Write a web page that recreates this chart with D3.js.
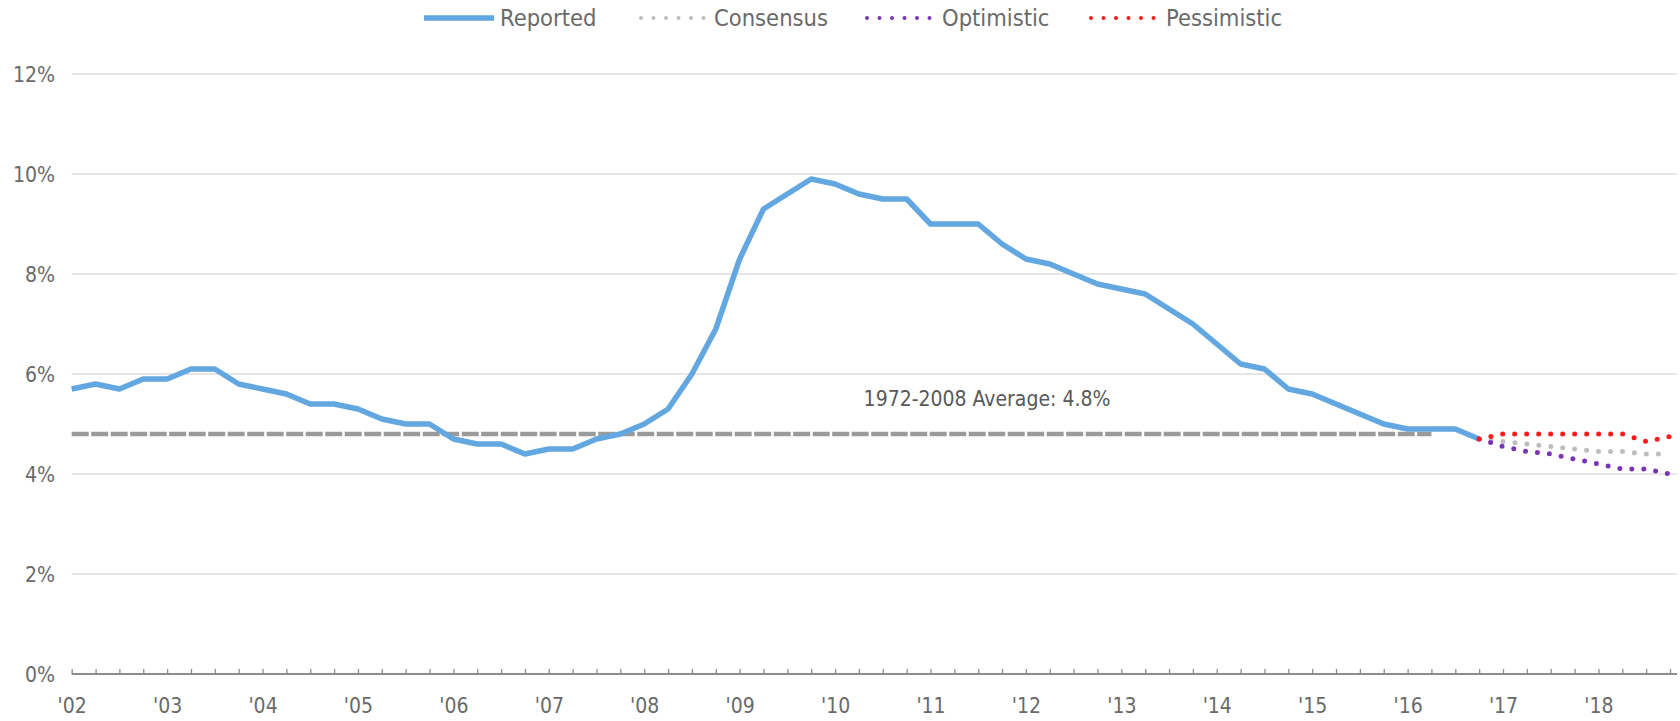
<!DOCTYPE html>
<html><head><meta charset="utf-8">
<script src="https://cdn.jsdelivr.net/npm/d3@7"></script>
<style>
body{margin:0;background:#fff;}
svg text{font-family:"Liberation Sans Narrow","DejaVu Sans Condensed",sans-serif;}
</style>
</head><body>
<svg id="chart" width="1680" height="721"></svg>
<script>
// ---- data ----
const yearLabels = ["'02","'03","'04","'05","'06","'07","'08","'09","'10","'11","'12","'13","'14","'15","'16","'17","'18"];
const quartersPerYear = 4;
const reported = [
  5.7,5.8,5.7,5.9,
  5.9,6.1,6.1,5.8,
  5.7,5.6,5.4,5.4,
  5.3,5.1,5.0,5.0,
  4.7,4.6,4.6,4.4,
  4.5,4.5,4.7,4.8,
  5.0,5.3,6.0,6.9,
  8.3,9.3,9.6,9.9,
  9.8,9.6,9.5,9.5,
  9.0,9.0,9.0,8.6,
  8.3,8.2,8.0,7.8,
  7.7,7.6,7.3,7.0,
  6.6,6.2,6.1,5.7,
  5.6,5.4,5.2,5.0,
  4.9,4.9,4.9,4.7
];
const forecastStartIndex = 59; // 2016 Q4
const consensus   = [4.7,4.65,4.6,4.55,4.5,4.45,4.45,4.4,4.4];
const optimistic  = [4.7,4.55,4.45,4.4,4.3,4.2,4.1,4.1,4.0];
const pessimistic = [4.7,4.8,4.8,4.8,4.8,4.8,4.8,4.65,4.75];
const averageValue = 4.8;
const averageEndIndex = 57; // 2016 Q2
const averageLabel = "1972-2008 Average: 4.8%";
const yTicks = [0,2,4,6,8,10,12];
const legendItems = [
  {name:"Reported", key:"reported"},
  {name:"Consensus", key:"consensus"},
  {name:"Optimistic", key:"optimistic"},
  {name:"Pessimistic", key:"pessimistic"}
];

// ---- styles ----
const colors = {reported:"#62a7e0", consensus:"#bdbdbd", optimistic:"#7a35b5", pessimistic:"#ff1a1a", avg:"#9b9b9b", grid:"#dedede", text:"#6a6a6a", axis:"#8c8c8c"};
const FONT = '"Liberation Sans Narrow","DejaVu Sans Condensed",sans-serif';

const svg = d3.select("#chart");
const lastIndex = yearLabels.length*quartersPerYear - 1;
const x = d3.scaleLinear().domain([0, lastIndex]).range([71.7, 1670]);
const y = d3.scaleLinear().domain([0, 12]).range([674, 74]);
const xRight = 1677;

// gridlines
svg.append("g").selectAll("line").data(yTicks.filter(d=>d>0)).join("line")
  .attr("x1", x(0)).attr("x2", xRight)
  .attr("y1", d=>y(d)).attr("y2", d=>y(d))
  .attr("stroke", colors.grid).attr("stroke-width", 1.6);

// y labels
const yAxis = d3.axisLeft(y).tickValues(yTicks).tickFormat(d=>d+"%").tickSize(0).tickPadding(0);
const gy = svg.append("g").attr("transform","translate(55,0)").call(yAxis);
gy.select(".domain").remove();
gy.selectAll("text").attr("fill", colors.text).attr("font-size", 21).attr("dy","0.36em")
  .style("font-family", FONT);

// x axis (quarter ticks, inside)
const xAxis = d3.axisBottom(x).tickValues(d3.range(0, lastIndex+1)).tickSize(-5).tickSizeOuter(0)
  .tickFormat(d => d % quartersPerYear === 0 ? yearLabels[d/quartersPerYear] : "");
const gx = svg.append("g").attr("transform",`translate(0,${y(0)})`).call(xAxis);
gx.select(".domain").remove();
gx.selectAll(".tick line").attr("stroke", colors.axis).attr("stroke-width",1.3);
gx.selectAll("text").attr("fill", colors.text).attr("font-size", 21).attr("y", 24).attr("dy","0.71em")
  .style("font-family", FONT);
svg.append("line").attr("x1", x(0)).attr("x2", xRight).attr("y1", y(0)).attr("y2", y(0))
  .attr("stroke", colors.axis).attr("stroke-width", 2);

// average line
svg.append("line")
  .attr("x1", x(0)).attr("x2", x(averageEndIndex))
  .attr("y1", y(averageValue)).attr("y2", y(averageValue))
  .attr("stroke", colors.avg).attr("stroke-width", 4.5).attr("stroke-dasharray","17,2.5");

svg.append("text").attr("x", 987).attr("y", y(averageValue)-28)
  .attr("text-anchor","middle").attr("font-size", 21).attr("fill","#595959")
  .style("font-family", FONT).text(averageLabel);

// series
const line = d3.line().x(d=>x(d.i)).y(d=>y(d.v));
const repData = reported.map((v,i)=>({i, v}));
svg.append("path").attr("d", line(repData)).attr("fill","none")
  .attr("stroke", colors.reported).attr("stroke-width", 5.5).attr("stroke-linejoin","round");

function forecast(arr, color){
  const data = arr.map((v,k)=>({i: forecastStartIndex+k, v}));
  svg.append("path").attr("d", line(data)).attr("fill","none")
    .attr("stroke", color).attr("stroke-width", 5).attr("stroke-linecap","round")
    .attr("stroke-dasharray","0,12");
}
forecast(consensus, colors.consensus);
forecast(optimistic, colors.optimistic);
forecast(pessimistic, colors.pessimistic);

// legend
const legendPos = [
  {sx:424, ex:494, tx:500},
  {sx:641, ex:705, tx:714},
  {sx:867, ex:931, tx:942},
  {sx:1091, ex:1155, tx:1166}
];
const ly = 18;
const lg = svg.append("g");
legendItems.forEach((it, k) => {
  const p = legendPos[k];
  const sw = lg.append("line").attr("x1", p.sx).attr("x2", p.ex).attr("y1", ly).attr("y2", ly)
    .attr("stroke", colors[it.key]);
  if (it.key === "reported") sw.attr("stroke-width", 5.5);
  else sw.attr("stroke-width", 4).attr("stroke-linecap","round").attr("stroke-dasharray","0,12.5");
  lg.append("text").attr("x", p.tx).attr("y", ly).attr("dy","0.36em")
    .attr("font-size", 23.5).attr("fill", colors.text).style("font-family", FONT).text(it.name);
});
</script>
</body></html>
